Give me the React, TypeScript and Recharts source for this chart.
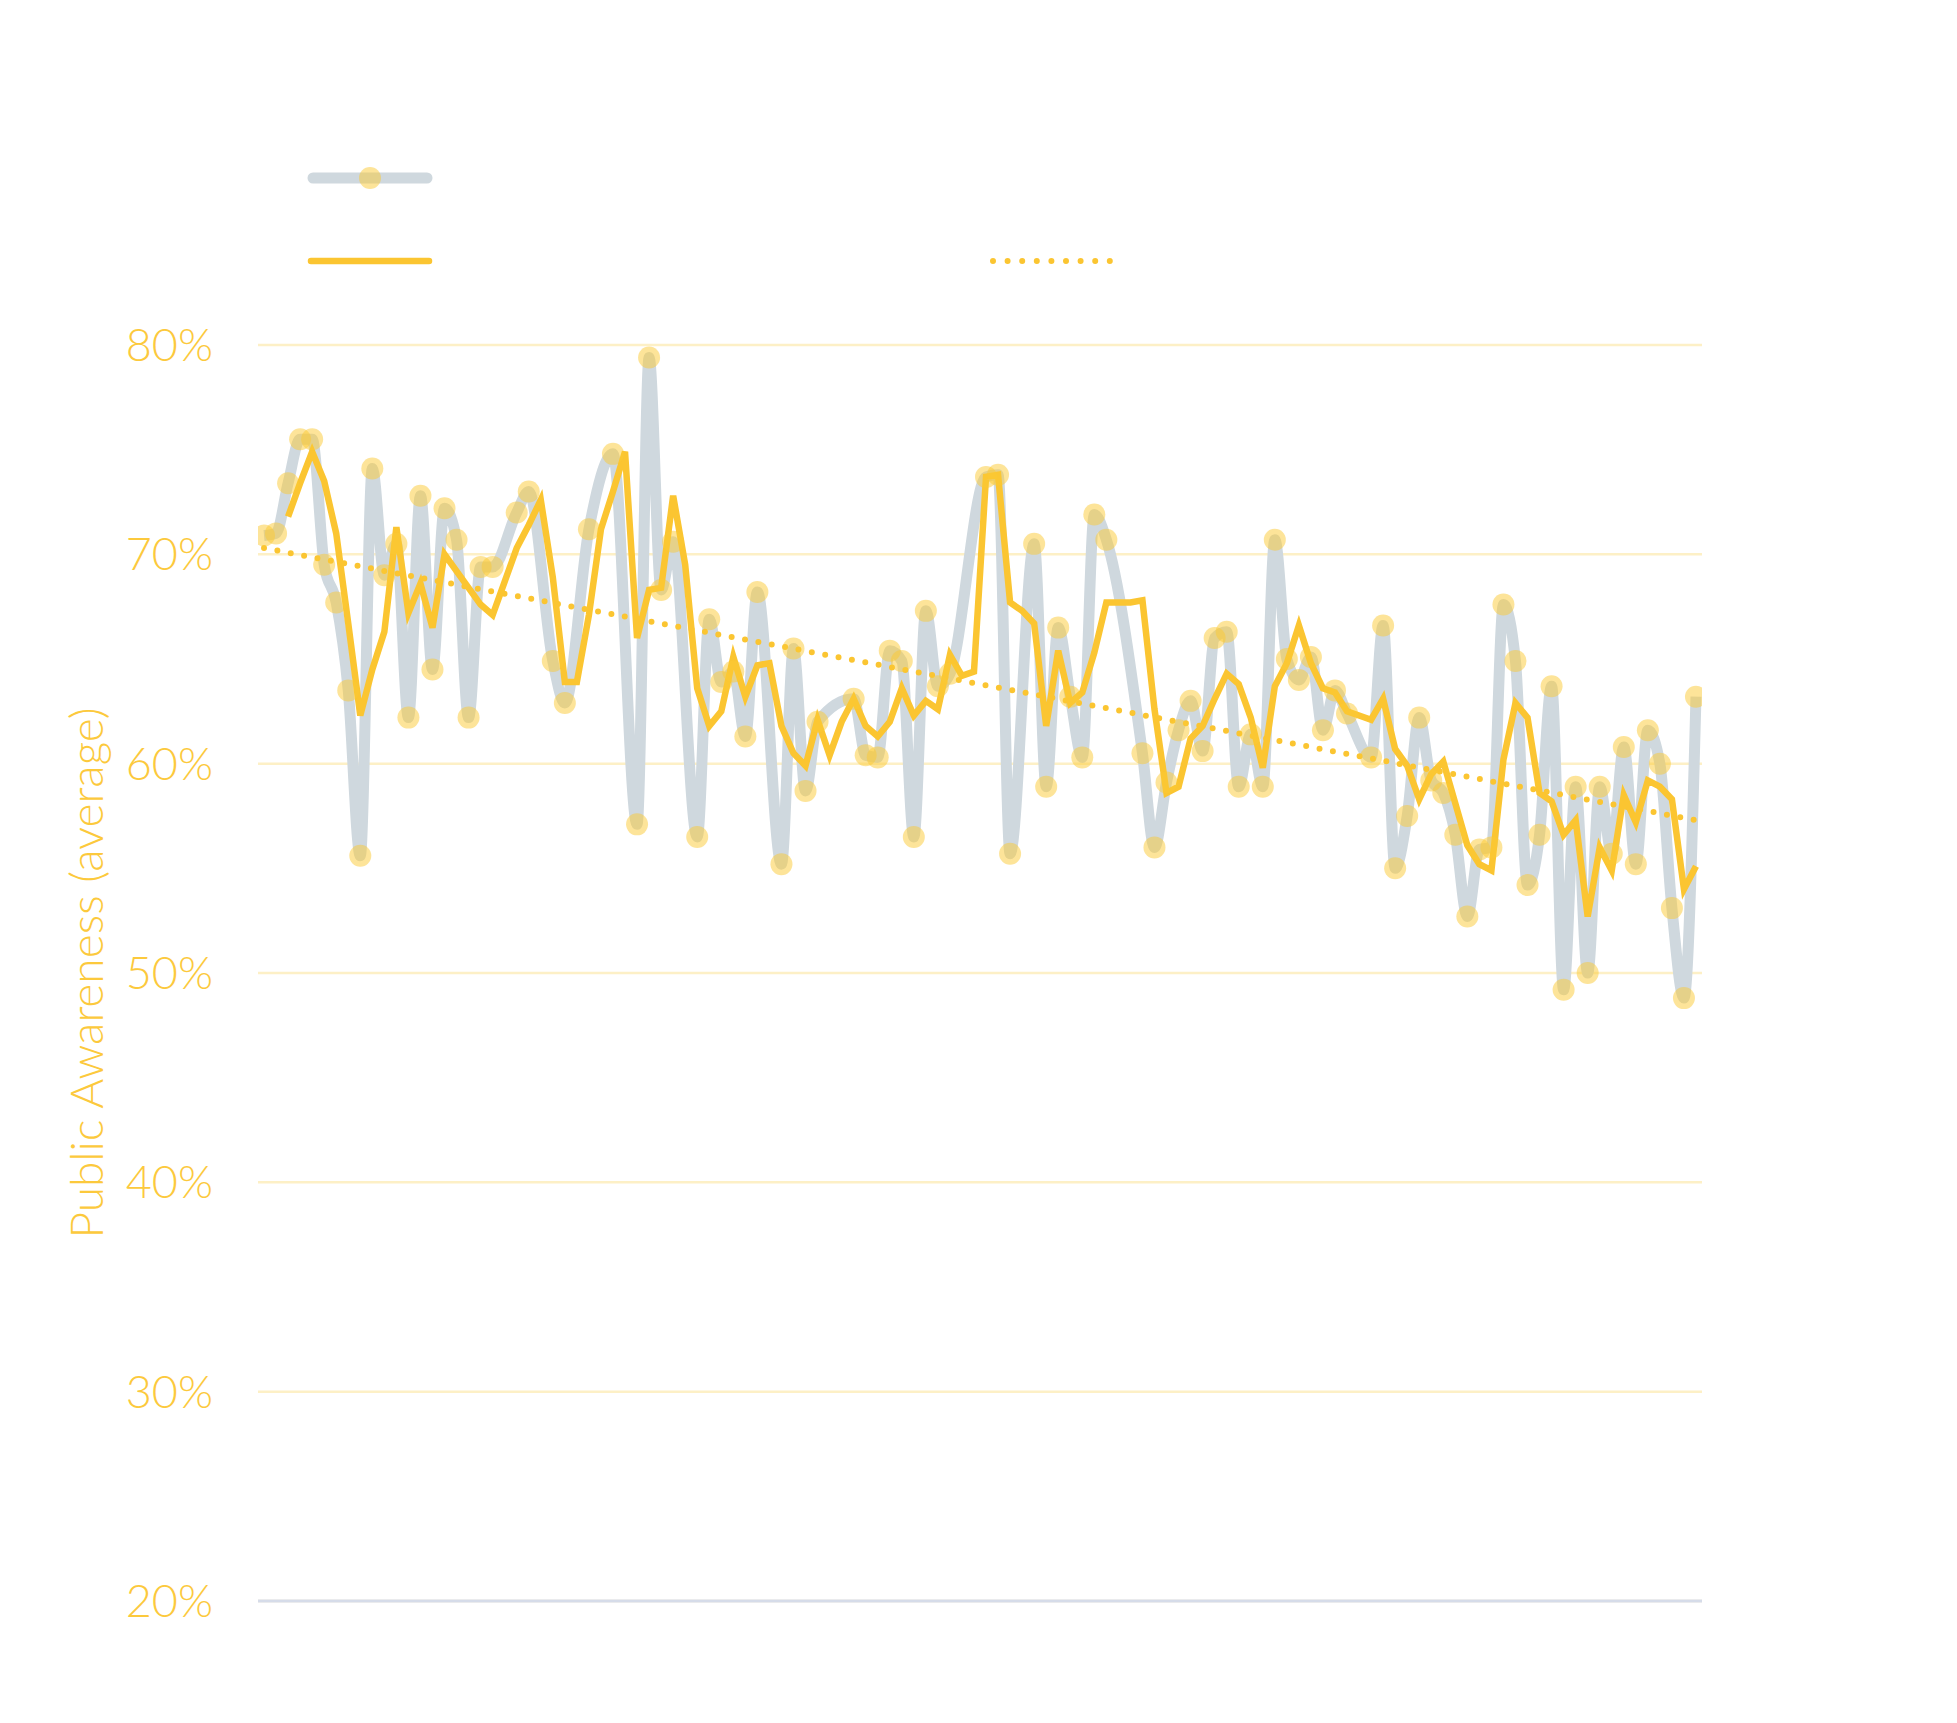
import React from 'react';
import { LineChart, Line, XAxis, YAxis, CartesianGrid } from 'recharts';

// Survey average per wave (null = no survey in that wave)
const awareness: (number | null)[] = [
  70.9, 71.0, 73.4, 75.5, 75.5, 69.5, 67.7, 63.5, 55.6, 74.1,
  69.0, 70.5, 62.2, 72.8, 64.5, 72.2, 70.7, 62.2, 69.4, 69.4,
  null, 72.0, 73.0, null, 64.9, 62.9, null, 71.2, null, 74.8,
  null, 57.1, 79.4, 68.3, 70.6, null, 56.5, 66.9, 63.9, 64.4,
  61.3, 68.2, null, 55.2, 65.5, 58.7, 62.0, null, null, 63.1,
  60.4, 60.3, 65.4, 64.9, 56.5, 67.3, 63.7, 64.3, null, null,
  73.7, 73.8, 55.7, null, 70.5, 58.9, 66.5, 63.2, 60.3, 71.9,
  70.7, null, null, 60.5, 56.0, 59.1, 61.6, 63.0, 60.6, 66.0,
  66.3, 58.9, 61.4, 58.9, 70.7, 65.0, 64.0, 65.1, 61.6, 63.5,
  62.4, null, 60.3, 66.6, 55.0, 57.5, 62.2, 59.2, 58.6, 56.6,
  52.7, 55.9, 56.0, 67.6, 64.9, 54.2, 56.6, 63.7, 49.2, 58.9,
  50.0, 58.9, 55.7, 60.8, 55.2, 61.6, 60.0, 53.1, 48.8, 63.2,
];

// Rolling average
const rolling: (number | null)[] = [
  null, null, 71.8, 73.4, 74.9, 73.5, 71.0, 66.7, 62.3, 64.5,
  66.3, 71.3, 67.2, 68.6, 66.5, 70.0, 69.2, 68.4, 67.6, 67.1,
  68.7, 70.3, 71.4, 72.6, 68.9, 63.9, 63.9, 67.1, 71.2, 73.0,
  74.9, 66.0, 68.3, 68.4, 72.8, 69.5, 63.6, 61.8, 62.5, 65.1,
  63.2, 64.7, 64.8, 61.8, 60.5, 59.9, 62.1, 60.4, 62.0, 63.1,
  61.8, 61.3, 62.0, 63.6, 62.3, 63.0, 62.6, 65.2, 64.2, 64.4,
  73.7, 73.8, 67.7, 67.3, 66.7, 61.8, 65.4, 62.9, 63.4, 65.3,
  67.7, 67.7, 67.7, 67.8, 62.6, 58.6, 58.9, 61.2, 61.8, 63.1,
  64.3, 63.8, 62.2, 59.8, 63.7, 64.8, 66.6, 64.8, 63.6, 63.4,
  62.5, 62.3, 62.1, 63.1, 60.7, 59.9, 58.3, 59.5, 60.1, 58.1,
  56.1, 55.2, 54.9, 60.2, 62.9, 62.2, 58.6, 58.2, 56.6, 57.3,
  52.7, 56.0, 54.9, 58.5, 57.2, 59.2, 58.9, 58.3, 54.0, 55.1,
];

// Linear trend: start and end values
const trend = [70.3, 57.3];

const yTicks = [20, 30, 40, 50, 60, 70, 80];

const GOLD = '#fbc531';
const LABEL = '#fcc93c';
const GREY = '#cfd8de';
const FONT = 'Lato, "Open Sans", sans-serif';

const data = awareness.map((v, i) => ({
  i,
  awareness: v,
  rolling: rolling[i],
  trend: i === 0 ? trend[0] : i === awareness.length - 1 ? trend[1] : null,
}));

export default function App() {
  return (
    <div style={{ position: 'absolute', left: 0, top: 0, width: 1957, height: 1723, background: '#fff' }}>
      <LineChart
        width={1957}
        height={1723}
        data={data}
        margin={{ top: 345, right: 255, left: 58, bottom: 121 }}
      >
        <CartesianGrid vertical={false} stroke="#fdf0c6" strokeWidth={2.5} />
        <XAxis
          dataKey="i"
          type="number"
          domain={[-0.5, 119.5]}
          allowDataOverflow
          height={1}
          tick={false}
          tickLine={false}
          axisLine={{ stroke: '#d6dce9', strokeWidth: 3 }}
        />
        <YAxis
          domain={[20, 80]}
          ticks={yTicks}
          width={200}
          axisLine={false}
          tickLine={false}
          tickMargin={39}
          tickFormatter={(v) => `${v}%`}
          tick={{ fontSize: 45, fill: LABEL, fontFamily: FONT, fontWeight: 300 }}
        />
        <Line
          type="monotone"
          dataKey="awareness"
          stroke={GREY}
          strokeWidth={11}
          connectNulls
          dot={{ r: 11, fill: '#fcc934', fillOpacity: 0.5, stroke: 'none', strokeWidth: 0 }}
          activeDot={false}
          isAnimationActive={false}
        />
        <Line
          type="linear"
          dataKey="trend"
          stroke={GOLD}
          strokeWidth={6}
          strokeDasharray="0 13.6"
          strokeLinecap="round"
          connectNulls
          dot={false}
          activeDot={false}
          isAnimationActive={false}
        />
        <Line
          type="linear"
          dataKey="rolling"
          stroke={GOLD}
          strokeWidth={6.5}
          connectNulls
          dot={false}
          activeDot={false}
          isAnimationActive={false}
        />
      </LineChart>

      {/* legend swatches and axis title */}
      <svg
        width={1957}
        height={1723}
        style={{ position: 'absolute', left: 0, top: 0, pointerEvents: 'none' }}
      >
        <line x1={313} y1={178} x2={427} y2={178} stroke={GREY} strokeWidth={11} strokeLinecap="round" />
        <circle cx={370} cy={178} r={11} fill="#fcc934" fillOpacity={0.5} />
        <line x1={311} y1={261} x2={429} y2={261} stroke={GOLD} strokeWidth={6.5} strokeLinecap="round" />
        <line
          x1={993}
          y1={261}
          x2={1110}
          y2={261}
          stroke={GOLD}
          strokeWidth={6}
          strokeDasharray="0 14.6"
          strokeLinecap="round"
        />
        <text
          x={103}
          y={973}
          transform="rotate(-90 103 973)"
          textAnchor="middle"
          fontSize={46}
          fontFamily={FONT}
          fontWeight={300}
          fill={LABEL}
        >
          Public Awareness (average)
        </text>
      </svg>
    </div>
  );
}
